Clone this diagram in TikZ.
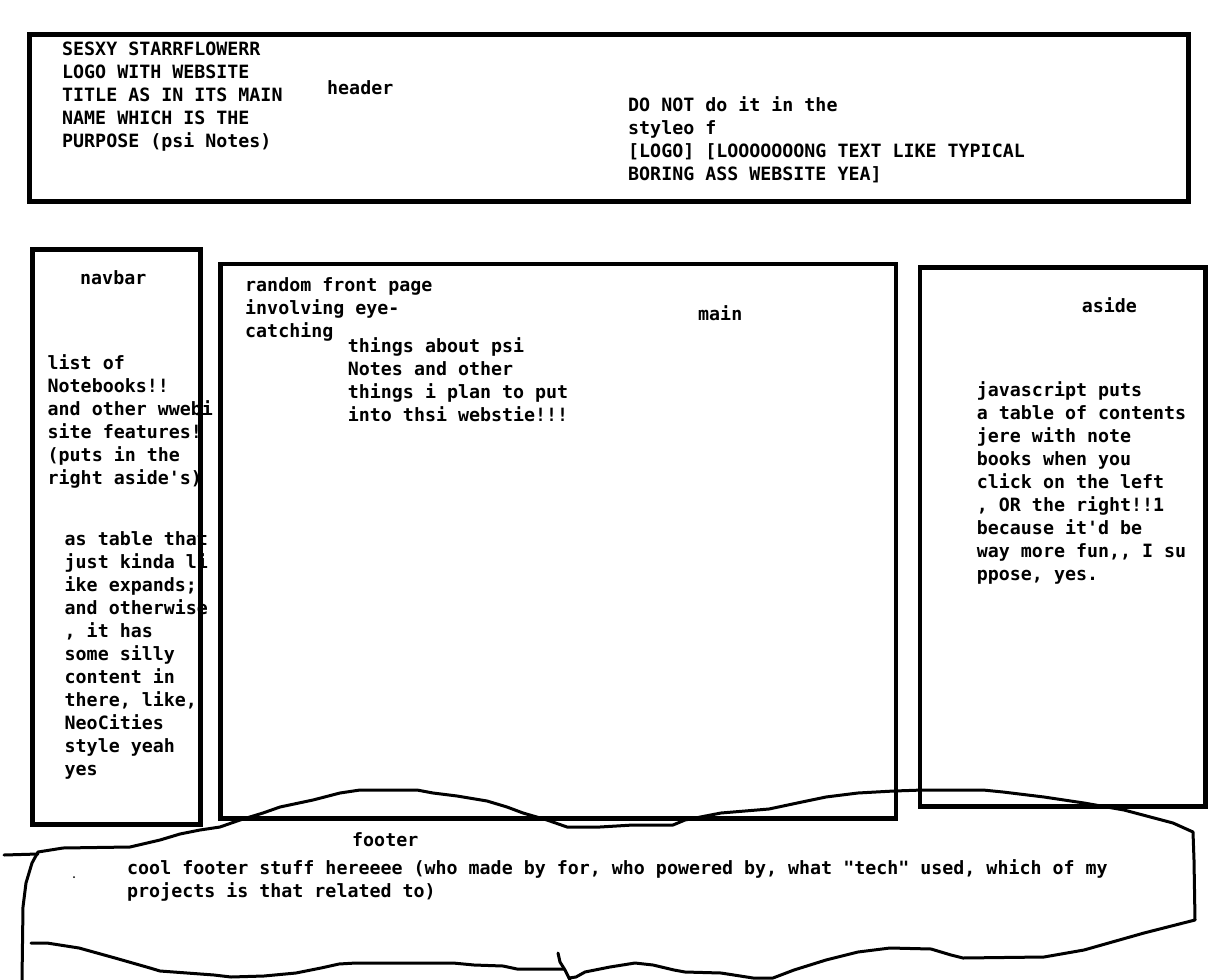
\documentclass[tikz,border=0pt]{standalone}
\usepackage{fontspec}
\setmonofont{DejaVu Sans Mono}
\newcommand\Lyn[1]{\hbox{#1}}
\newcommand\Blk[1]{\vtop{\baselineskip=23pt\lineskiplimit=-100pt\lineskip=0pt #1}}
\tikzset{
  boxln/.style={line width=4.5pt, line join=miter},
  blobln/.style={line width=3pt, line cap=round, line join=round},
  txt/.style={anchor=base west, inner sep=0pt, font=\ttfamily\bfseries\fontsize{18.3}{23}\selectfont},
}
\begin{document}
\begin{tikzpicture}[x=1pt,y=-1pt]
\useasboundingbox (0,0) rectangle (1232,980);
\fill[white] (0,0) rectangle (1232,980);
% boxes
\draw[boxln] (29.5,34.5) rectangle (1188.5,201.5);
\draw[boxln] (32.5,249.5) rectangle (200.5,824.5);
\draw[boxln] (220.5,264) rectangle (896,818.5);
\draw[boxln] (920,267.5) rectangle (1205.5,806.5);
% footer blob
\draw[blobln] (4,855) -- (38,854);
\draw[blobln] plot coordinates {(22,980) (23,907) (26,883) (32,863) (38,852) (63,848) (130,847) (160,840) (180,834) (200,830) (220,827) (240,820) (263,813) (280,807) (313,800) (340,793) (360,790) (417,790) (433,793) (457,796) (487,801) (507,807) (523,813) (547,820) (567,827) (600,827) (633,825) (673,825) (685,820) (721,813) (769,809) (802,802) (826,797) (858,793) (894,791) (923,790) (983,790) (1003,792) (1044,797) (1084,803) (1124,810) (1173,823) (1193,832) (1194,860) (1195,920) (1144,933) (1084,950) (1044,957) (963,958) (951,955) (931,949) (890,948) (858,952) (826,960) (794,970) (773,978) (753,978) (721,973) (685,972) (674,970) (653,965) (635,963) (610,967) (585,972) (576,977) (569,978)};
\draw[blobln] plot coordinates {(31,943) (47,943) (79,948) (115,958) (150,968) (160,971) (214,975) (231,977) (264,976) (296,973) (321,968) (339,964) (356,963) (453,963) (474,965) (503,966) (517,969) (564,969)};
\draw[blobln] plot coordinates {(558,953) (560,962) (565,970) (570,980)};
\fill (74,877) circle (1pt);
% texts
\node[txt] (hdrlogo) at (62,55) {\Blk{\Lyn{SESXY STARRFLOWERR}\Lyn{LOGO WITH WEBSITE}\Lyn{TITLE AS IN ITS MAIN}\Lyn{NAME WHICH IS THE}\Lyn{PURPOSE (psi Notes)}}};
\node[txt] (hdrlabel) at (327,94) {header};
\node[txt] (hdrnote) at (628,111.5) {\Blk{\Lyn{DO NOT do it in the}\Lyn{styleo f}\Lyn{[LOGO] [LOOOOOOONG TEXT LIKE TYPICAL}\Lyn{BORING ASS WEBSITE YEA]}}};
\node[txt] (navlabel) at (80,284.3) {navbar};
\node[txt] (navtxta) at (47.5,369.3) {\Blk{\Lyn{list of}\Lyn{Notebooks!!}\Lyn{and other wwebi}\Lyn{site features!}\Lyn{(puts in the}\Lyn{right aside's)}}};
\node[txt] (navtxtb) at (64.5,545) {\Blk{\Lyn{as table that}\Lyn{just kinda li}\Lyn{ike expands;}\Lyn{and otherwise}\Lyn{, it has}\Lyn{some silly}\Lyn{content in}\Lyn{there, like,}\Lyn{NeoCities}\Lyn{style yeah}\Lyn{yes}}};
\node[txt] (mainlabel) at (698,320.5) {main};
\node[txt] (maintxta) at (245,291) {\Blk{\Lyn{random front page}\Lyn{involving eye-}\Lyn{catching}}};
\node[txt] (maintxtb) at (347.7,352.7) {\Blk{\Lyn{things about psi}\Lyn{Notes and other}\Lyn{things i plan to put}\Lyn{into thsi webstie!!!}}};
\node[txt] (asidelabel) at (1081.7,312.3) {aside};
\node[txt] (asidetxt) at (976.7,396.7) {\Blk{\Lyn{javascript puts}\Lyn{a table of contents}\Lyn{jere with note}\Lyn{books when you}\Lyn{click on the left}\Lyn{, OR the right!!1}\Lyn{because it'd be}\Lyn{way more fun,,\kern0pt{} I su}\Lyn{ppose, yes.}}};
\node[txt] (footlabel) at (352,846.7) {footer};
\node[txt] (foottxt) at (127,874) {\Blk{\Lyn{cool footer stuff hereeee (who made by for, who powered by, what "tech" used, which of my}\Lyn{projects is that related to)}}};
\end{tikzpicture}
\end{document}
